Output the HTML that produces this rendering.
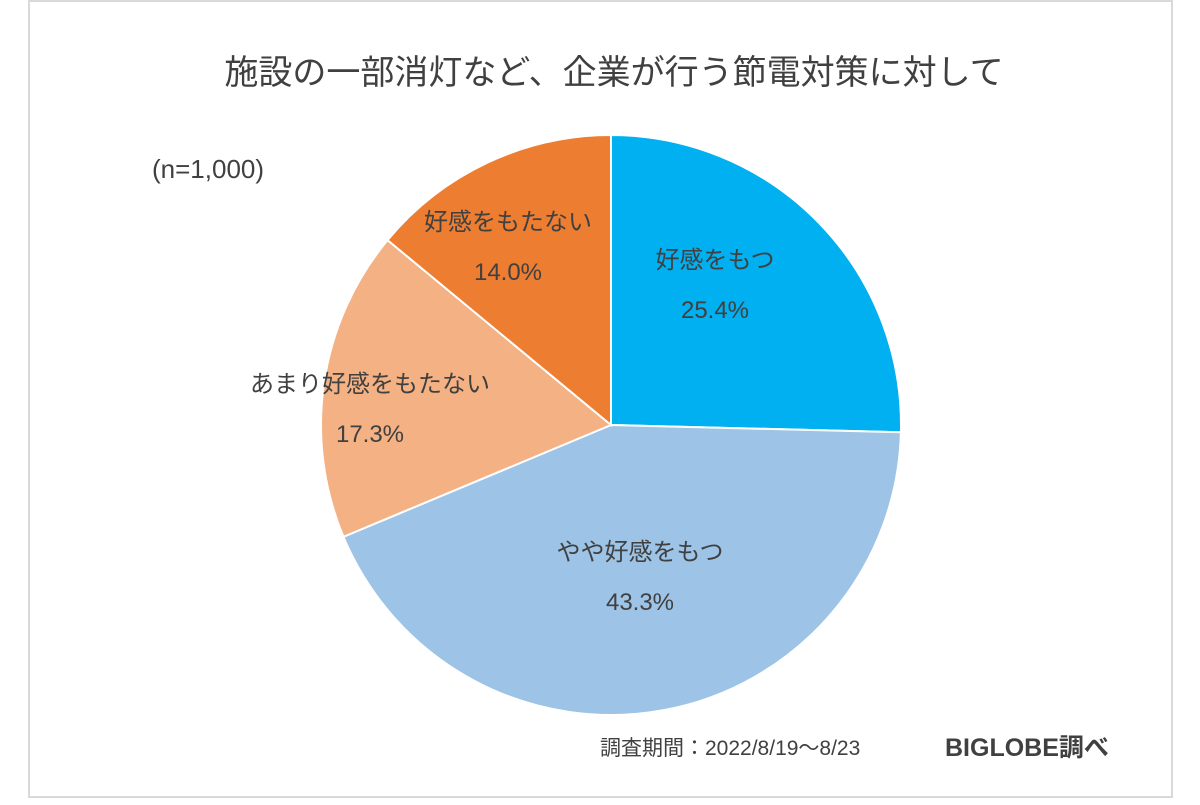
<!DOCTYPE html>
<html><head><meta charset="utf-8"><style>
body{margin:0;width:1200px;height:800px;background:#fff;overflow:hidden}
svg text{font-family:"Liberation Sans","Noto Sans CJK JP",sans-serif;fill:#404040}
</style></head><body>
<svg width="1200" height="800">
<rect x="29" y="1" width="1143" height="796" fill="#fff" stroke="#d9d9d9" stroke-width="2"/>
<text x="614" y="84" font-size="34" text-anchor="middle">施設の一部消灯など、企業が行う節電対策に対して</text>
<text x="152" y="178" font-size="26">(n=1,000)</text>
<g id="pie"></g>
<text x="600" y="755" font-size="21">調査期間：2022/8/19～8/23</text>
<text x="945" y="756" font-size="25" font-weight="bold" fill="#262626">BIGLOBE調べ</text>
</svg>
<script>
const categories=["好感をもつ","やや好感をもつ","あまり好感をもたない","好感をもたない"];
const values=[25.4,43.3,17.3,14.0];
const colors=["#00B0F0","#9DC3E6","#F4B183","#ED7D31"];
const labelPos=[[715,268],[640,560],[370,392],[508,230]];
const cx=611,cy=425,r=290;
const g=document.getElementById('pie');
const ns="http://www.w3.org/2000/svg";
const total=values.reduce((a,b)=>a+b,0);
let a0=-Math.PI/2;
values.forEach((v,i)=>{
  const a1=a0+v/total*2*Math.PI;
  const x0=cx+r*Math.cos(a0),y0=cy+r*Math.sin(a0),x1=cx+r*Math.cos(a1),y1=cy+r*Math.sin(a1);
  const p=document.createElementNS(ns,'path');
  p.setAttribute('d',`M${cx},${cy}L${x0},${y0}A${r},${r} 0 ${a1-a0>Math.PI?1:0} 1 ${x1},${y1}Z`);
  p.setAttribute('fill',colors[i]);p.setAttribute('stroke','#fff');p.setAttribute('stroke-width','2');
  
  
  g.appendChild(p);
  const [lx,ly]=labelPos[i];
  [categories[i],v.toFixed(1)+'%'].forEach((s,k)=>{
    const t=document.createElementNS(ns,'text');
    t.setAttribute('x',lx);t.setAttribute('y',ly+k*50);t.setAttribute('font-size','24');t.setAttribute('text-anchor','middle');
    t.textContent=s;
    
    
    g.appendChild(t);
  });
  a0=a1;
});
</script>
</body></html>
